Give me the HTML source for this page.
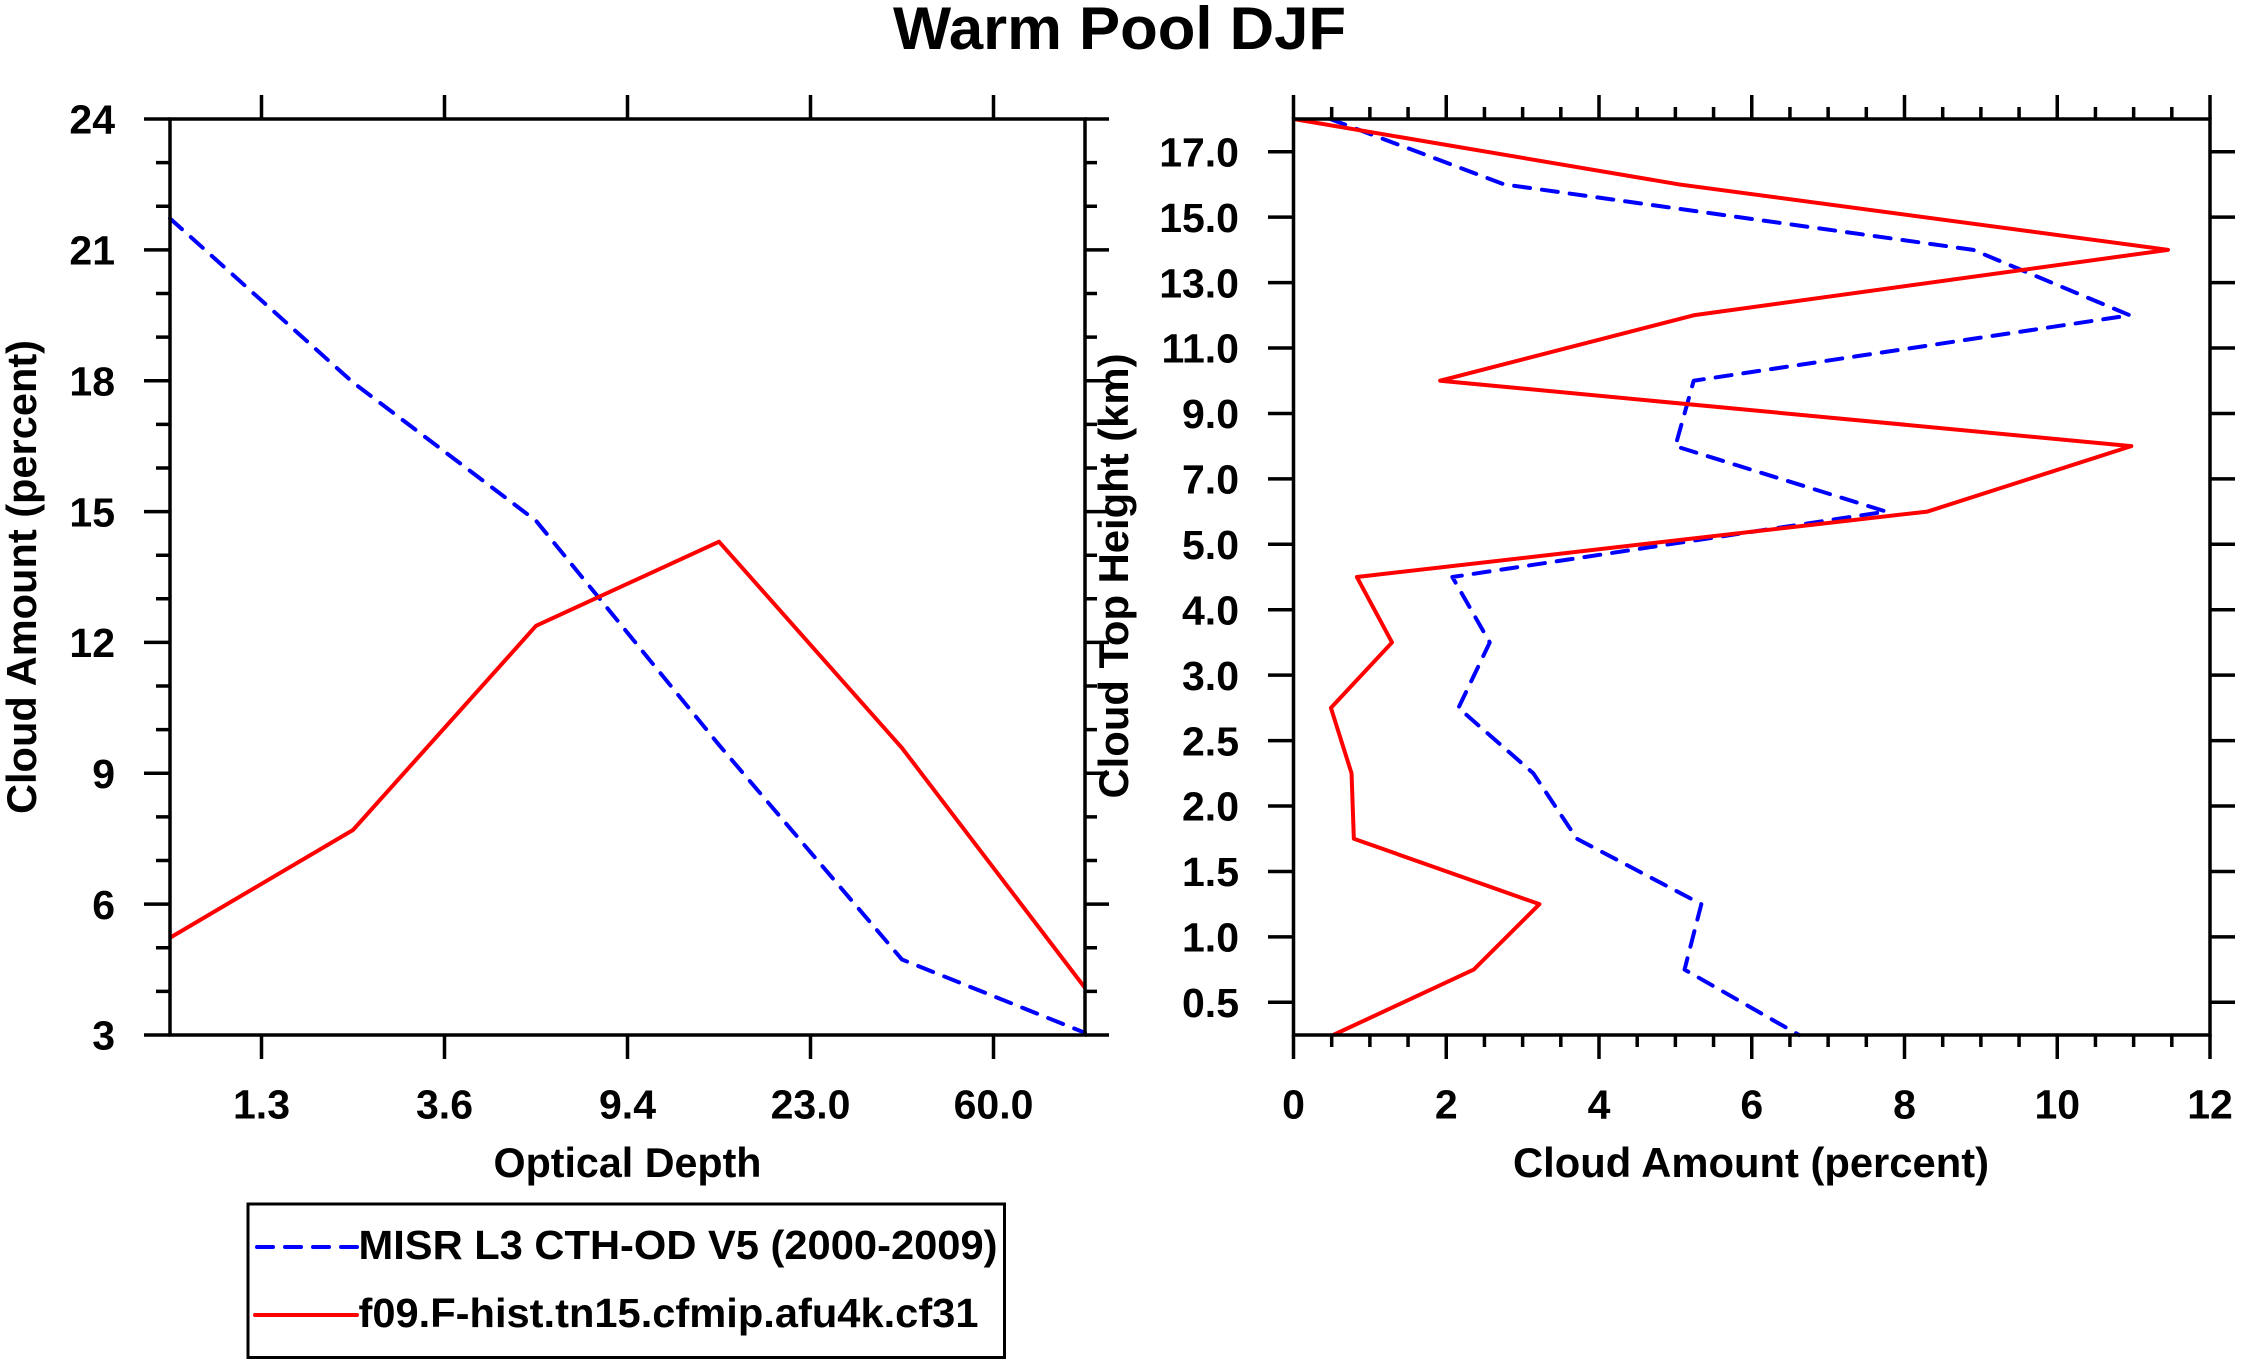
<!DOCTYPE html>
<html>
<head>
<meta charset="utf-8">
<style>
  html,body{margin:0;padding:0;background:#fff;}
  svg{display:block;}
  text{font-family:"Liberation Sans", Arial, sans-serif;font-weight:bold;fill:#000;}
</style>
</head>
<body>
<svg width="2241" height="1364" viewBox="0 0 2241 1364" xmlns="http://www.w3.org/2000/svg">
  <rect x="0" y="0" width="2241" height="1364" fill="#fff"/>

  <!-- Title -->
  <text x="1119.5" y="49" font-size="60" text-anchor="middle" textLength="453" lengthAdjust="spacingAndGlyphs">Warm Pool DJF</text>

  <!-- ================= LEFT PLOT ================= -->
  <polyline fill="none" stroke="#0000ff" stroke-width="4" stroke-dasharray="16 12" stroke-linecap="round" stroke-linejoin="round"
    points="170,218.45 353,382.46 536,520.73 719,744.93 902,959.54 1085,1032.82"/>
  <polyline fill="none" stroke="#ff0000" stroke-width="4" stroke-linejoin="round"
    points="170,937.73 353,829.99 536,625.85 719,541.67 902,747.99 1085,987.89"/>

  <rect x="170" y="119" width="915" height="916" fill="none" stroke="#000" stroke-width="3.5"/>

  <path fill="none" stroke="#000" stroke-width="3.5" d="
    M144 119H170 M156 162.62H170 M156 206.24H170 M144 249.86H170 M156 293.48H170 M156 337.1H170
    M144 380.71H170 M156 424.33H170 M156 467.95H170 M144 511.57H170 M156 555.19H170 M156 598.81H170
    M144 642.43H170 M156 686.05H170 M156 729.67H170 M144 773.29H170 M156 816.9H170 M156 860.52H170
    M144 904.14H170 M156 947.76H170 M156 991.38H170 M144 1035H170"/>
  <path fill="none" stroke="#000" stroke-width="3.5" d="
    M1085 119H1109 M1085 162.62H1097 M1085 206.24H1097 M1085 249.86H1109 M1085 293.48H1097 M1085 337.1H1097
    M1085 380.71H1109 M1085 424.33H1097 M1085 467.95H1097 M1085 511.57H1109 M1085 555.19H1097 M1085 598.81H1097
    M1085 642.43H1109 M1085 686.05H1097 M1085 729.67H1097 M1085 773.29H1109 M1085 816.9H1097 M1085 860.52H1097
    M1085 904.14H1109 M1085 947.76H1097 M1085 991.38H1097 M1085 1035H1109"/>
  <path fill="none" stroke="#000" stroke-width="3.5" d="
    M261.5 95V119 M444.5 95V119 M627.5 95V119 M810.5 95V119 M993.5 95V119
    M261.5 1035V1059 M444.5 1035V1059 M627.5 1035V1059 M810.5 1035V1059 M993.5 1035V1059"/>

  <g font-size="41" text-anchor="end">
    <text x="115" y="133.7">24</text>
    <text x="115" y="264.6">21</text>
    <text x="115" y="395.4">18</text>
    <text x="115" y="526.3">15</text>
    <text x="115" y="657.1">12</text>
    <text x="115" y="788">9</text>
    <text x="115" y="918.8">6</text>
    <text x="115" y="1049.7">3</text>
  </g>
  <g font-size="41" text-anchor="middle">
    <text x="261.5" y="1118.5">1.3</text>
    <text x="444.5" y="1118.5">3.6</text>
    <text x="627.5" y="1118.5">9.4</text>
    <text x="810.5" y="1118.5">23.0</text>
    <text x="993.5" y="1118.5">60.0</text>
  </g>
  <text x="627.5" y="1177" font-size="42" text-anchor="middle" textLength="268" lengthAdjust="spacingAndGlyphs">Optical Depth</text>
  <text transform="translate(36,577) rotate(-90)" x="0" y="0" font-size="42" text-anchor="middle" textLength="474" lengthAdjust="spacingAndGlyphs">Cloud Amount (percent)</text>

  <!-- ================= RIGHT PLOT ================= -->
  <polyline fill="none" stroke="#0000ff" stroke-width="4" stroke-dasharray="16 12" stroke-linecap="round" stroke-linejoin="round"
    points="1330.16,119 1504.3,184.43 1973.24,249.86 2129.81,315.29 1693.71,380.72 1675.38,446.15 1886.17,511.58 1452.36,577.01 1489.78,642.44 1458.47,707.87 1533.32,773.3 1576.85,838.73 1701.34,904.16 1684.54,969.59 1799.1,1035"/>
  <polyline fill="none" stroke="#ff0000" stroke-width="4" stroke-linejoin="round"
    points="1293.5,119 1679.19,184.43 2167.99,249.86 1693.71,315.29 1440.14,380.72 2131.33,446.15 1927.41,511.58 1356.89,577.01 1392.02,642.44 1330.92,707.87 1351.55,773.3 1353.84,838.73 1539.43,904.16 1473.75,969.59 1333.22,1035"/>

  <rect x="1293.5" y="119" width="916.5" height="916" fill="none" stroke="#000" stroke-width="3.5"/>

  <path fill="none" stroke="#000" stroke-width="3.5" d="
    M1293.5 95V119 M1331.69 107V119 M1369.88 107V119 M1408.06 107V119
    M1446.25 95V119 M1484.44 107V119 M1522.63 107V119 M1560.81 107V119
    M1599 95V119 M1637.19 107V119 M1675.38 107V119 M1713.56 107V119
    M1751.75 95V119 M1789.94 107V119 M1828.13 107V119 M1866.31 107V119
    M1904.5 95V119 M1942.69 107V119 M1980.88 107V119 M2019.06 107V119
    M2057.25 95V119 M2095.44 107V119 M2133.63 107V119 M2171.81 107V119 M2210 95V119
    M1293.5 1035V1059 M1331.69 1035V1047 M1369.88 1035V1047 M1408.06 1035V1047
    M1446.25 1035V1059 M1484.44 1035V1047 M1522.63 1035V1047 M1560.81 1035V1047
    M1599 1035V1059 M1637.19 1035V1047 M1675.38 1035V1047 M1713.56 1035V1047
    M1751.75 1035V1059 M1789.94 1035V1047 M1828.13 1035V1047 M1866.31 1035V1047
    M1904.5 1035V1059 M1942.69 1035V1047 M1980.88 1035V1047 M2019.06 1035V1047
    M2057.25 1035V1059 M2095.44 1035V1047 M2133.63 1035V1047 M2171.81 1035V1047 M2210 1035V1059"/>
  <path fill="none" stroke="#000" stroke-width="3.5" d="
    M1268 151.72H1293.5 M1268 217.15H1293.5 M1268 282.58H1293.5 M1268 348.01H1293.5 M1268 413.44H1293.5
    M1268 478.87H1293.5 M1268 544.3H1293.5 M1268 609.73H1293.5 M1268 675.16H1293.5 M1268 740.59H1293.5
    M1268 806.02H1293.5 M1268 871.45H1293.5 M1268 936.88H1293.5 M1268 1002.31H1293.5
    M2210 151.72H2235 M2210 217.15H2235 M2210 282.58H2235 M2210 348.01H2235 M2210 413.44H2235
    M2210 478.87H2235 M2210 544.3H2235 M2210 609.73H2235 M2210 675.16H2235 M2210 740.59H2235
    M2210 806.02H2235 M2210 871.45H2235 M2210 936.88H2235 M2210 1002.31H2235"/>

  <g font-size="41" text-anchor="end">
    <text x="1239" y="166.4">17.0</text>
    <text x="1239" y="231.8">15.0</text>
    <text x="1239" y="297.3">13.0</text>
    <text x="1239" y="362.7">11.0</text>
    <text x="1239" y="428.1">9.0</text>
    <text x="1239" y="493.6">7.0</text>
    <text x="1239" y="559">5.0</text>
    <text x="1239" y="624.4">4.0</text>
    <text x="1239" y="689.9">3.0</text>
    <text x="1239" y="755.3">2.5</text>
    <text x="1239" y="820.7">2.0</text>
    <text x="1239" y="886.2">1.5</text>
    <text x="1239" y="951.6">1.0</text>
    <text x="1239" y="1017">0.5</text>
  </g>
  <g font-size="41" text-anchor="middle">
    <text x="1293.5" y="1118.5">0</text>
    <text x="1446.25" y="1118.5">2</text>
    <text x="1599" y="1118.5">4</text>
    <text x="1751.75" y="1118.5">6</text>
    <text x="1904.5" y="1118.5">8</text>
    <text x="2057.25" y="1118.5">10</text>
    <text x="2210" y="1118.5">12</text>
  </g>
  <text x="1751" y="1177" font-size="42" text-anchor="middle" textLength="476" lengthAdjust="spacingAndGlyphs">Cloud Amount (percent)</text>
  <text transform="translate(1128,576) rotate(-90)" x="0" y="0" font-size="42" text-anchor="middle" textLength="445" lengthAdjust="spacingAndGlyphs">Cloud Top Height (km)</text>

  <!-- ================= LEGEND ================= -->
  <rect x="248" y="1204" width="756.5" height="153.5" fill="#fff" stroke="#000" stroke-width="3"/>
  <line x1="257" y1="1247" x2="357" y2="1247" stroke="#0000ff" stroke-width="4" stroke-dasharray="16 12" stroke-linecap="round"/>
  <text x="358.5" y="1259" font-size="41" textLength="639" lengthAdjust="spacingAndGlyphs">MISR L3 CTH-OD V5 (2000-2009)</text>
  <line x1="255" y1="1315" x2="357" y2="1315" stroke="#ff0000" stroke-width="4" stroke-linecap="round"/>
  <text x="358.5" y="1327" font-size="41" textLength="620" lengthAdjust="spacingAndGlyphs">f09.F-hist.tn15.cfmip.afu4k.cf31</text>
</svg>
</body>
</html>
